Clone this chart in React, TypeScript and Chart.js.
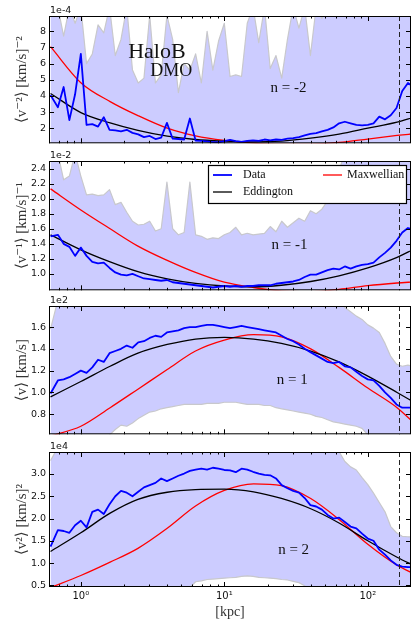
import { useEffect, useRef } from "react";
import { Chart, registerables } from "chart.js";

Chart.register(...registerables);

// ---------- shared x grid (kpc) ----------
const radiusKpc = [
  0.615, 0.692, 0.759, 0.832, 0.912, 1.0, 1.096, 1.202, 1.318, 1.445,
  1.585, 1.738, 1.905, 2.089, 2.291, 2.512, 2.754, 3.02, 3.311, 3.631,
  3.981, 4.365, 4.786, 5.248, 5.754, 6.31, 6.918, 7.586, 8.318, 9.12,
  10.0, 10.96, 12.02, 13.18, 14.45, 15.85, 17.38, 19.05, 20.89, 22.91,
  25.12, 27.54, 30.2, 33.11, 36.31, 39.81, 43.65, 47.86, 52.48, 57.54,
  63.1, 69.18, 75.86, 83.18, 91.2, 100.0, 109.6, 120.2, 131.8, 144.5,
  158.5, 173.8, 190.5, 208.9,
];
const modelRadius = [0.615, 1, 1.6, 2.5, 4, 6.3, 10, 16, 25, 40, 63, 100, 160, 210];
const cutoffRadius = 165;
const xMin = 0.62;
const xMax = 200;
const xLabelTicks = [1, 10, 100];
const xLabelText = ["10⁰", "10¹", "10²"];

// ---------- n = -2 (units 1e-4) ----------
const dataM2 = [
  4.05, 3.3, 4.55, 2.5, 4.1, 6.6, 2.2, 2.25, 2.1, 2.68,
  1.9, 1.86, 1.8, 1.9, 1.71, 1.62, 1.45, 1.52, 1.33, 1.42,
  2.33, 1.35, 1.33, 1.3, 2.6, 1.23, 1.22, 1.18, 1.14, 1.13,
  1.2, 1.27, 1.2, 1.15, 1.22, 1.25, 1.22, 1.3, 1.25, 1.3,
  1.28, 1.35, 1.38, 1.45, 1.55, 1.65, 1.7, 1.8, 1.9, 2.05,
  2.3, 2.4, 2.3, 2.2, 2.18, 2.2, 2.3, 2.72, 2.55, 2.8,
  3.25, 4.3, 4.8, 4.55,
];
const eddM2 = [4.15, 2.97, 2.33, 1.87, 1.51, 1.3, 1.2, 1.15, 1.2, 1.38, 1.63, 2.0, 2.38, 2.68];
const maxwM2 = [7.05, 4.82, 3.65, 2.78, 2.0, 1.52, 1.24, 1.08, 1.02, 1.02, 1.12, 1.33, 1.55, 1.66];
const bandHighM2 = [
  9.5, 9.5, 7.7, 9.5, 8.5, 9.5, 6.0, 6.6, 8.4, 7.9,
  9.5, 6.5, 7.5, 9.5, 5.6, 4.8, 5.1, 9.0, 4.8, 5.3,
  9.0, 7.5, 4.2, 6.0, 5.6, 6.6, 4.8, 8.0, 5.6, 7.4,
  8.5, 5.2, 5.3, 5.2, 8.5, 9.5, 7.3, 9.5, 5.7, 6.5,
  5.1, 7.5, 9.5, 8.2, 9.5, 6.5, 9.5, 8.8, 9.5, 9.5,
  9.5, 9.5, 9.5, 9.5, 9.5, 9.5, 9.5, 9.5, 9.5, 9.5,
  9.5, 9.5, 9.5, 9.5,
];
const yTicksM2 = [2, 3, 4, 5, 6, 7, 8];

// ---------- n = -1 (units 1e-2) ----------
const dataM1 = [
  1.5, 1.52, 1.4, 1.36, 1.24, 1.35, 1.24, 1.16, 1.14, 1.15,
  1.08, 1.02, 0.99, 0.98, 1.0, 0.97, 0.94, 0.93, 0.92, 0.91,
  0.92, 0.89, 0.88, 0.87, 0.86, 0.85, 0.84, 0.83, 0.82, 0.83,
  0.84, 0.83, 0.84, 0.83, 0.84, 0.84, 0.85, 0.85, 0.85, 0.87,
  0.88, 0.89, 0.9, 0.92, 0.96, 0.99, 0.99, 1.02, 1.05, 1.07,
  1.06, 1.1, 1.07, 1.1, 1.12, 1.13, 1.15, 1.22, 1.28, 1.35,
  1.44, 1.55, 1.61, 1.59,
];
const eddM1 = [1.52, 1.32, 1.16, 1.03, 0.935, 0.875, 0.84, 0.83, 0.85, 0.9, 0.975, 1.08, 1.22, 1.33];
const maxwM1 = [2.13, 1.85, 1.6, 1.37, 1.18, 1.02, 0.89, 0.82, 0.775, 0.765, 0.795, 0.845, 0.88, 0.895];
const bandHighM1 = [
  2.6, 2.6, 2.25, 2.3, 2.6, 2.3, 2.05, 2.06, 2.04, 2.05,
  2.12, 1.92, 1.95, 1.82, 1.7, 1.65, 1.66, 1.7, 1.57, 1.6,
  2.22, 1.6, 1.52, 1.55, 2.22, 1.52, 1.5, 1.46, 1.48, 1.47,
  1.52, 1.55, 1.62, 1.52, 1.54, 1.52, 1.53, 1.54, 1.63, 1.56,
  1.7, 1.62, 1.68, 1.74, 1.7, 1.84, 1.8, 1.86, 1.97, 2.15,
  2.38, 2.6, 2.6, 2.6, 2.6, 2.6, 2.6, 2.6, 2.6, 2.6,
  2.6, 2.6, 2.6, 2.6,
];
const yTicksM1 = [1.0, 1.2, 1.4, 1.6, 1.8, 2.0, 2.2, 2.4];

// ---------- n = 1 (units 1e2) ----------
const dataP1 = [
  0.99, 1.11, 1.12, 1.14, 1.17, 1.2, 1.18, 1.23, 1.3, 1.28,
  1.36, 1.38, 1.4, 1.43, 1.41, 1.46, 1.47, 1.5, 1.52, 1.51,
  1.55, 1.56, 1.57, 1.59, 1.6, 1.6, 1.61, 1.62, 1.62, 1.61,
  1.6, 1.59, 1.6, 1.61, 1.6, 1.59, 1.58, 1.57, 1.56, 1.55,
  1.52, 1.49, 1.47, 1.44, 1.4, 1.37, 1.34, 1.31, 1.28, 1.27,
  1.28, 1.24, 1.23, 1.19, 1.15, 1.12, 1.11, 1.06, 1.0, 0.95,
  0.89, 0.86, 0.86, 0.86,
];
const eddP1 = [0.96, 1.1, 1.24, 1.36, 1.44, 1.49, 1.505, 1.49, 1.45, 1.38, 1.28, 1.15, 1.0, 0.91];
const maxwP1 = [0.6, 0.69, 0.86, 1.03, 1.21, 1.38, 1.48, 1.53, 1.51, 1.4, 1.23, 1.04, 0.86, 0.72];
const bandHighP1 = [
  1.58, 1.85, 1.78, 1.79, 1.85, 1.85, 1.85, 1.85, 1.85, 1.85,
  1.85, 1.85, 1.85, 1.85, 1.85, 1.85, 1.85, 1.85, 1.85, 1.85,
  1.85, 1.85, 1.85, 1.85, 1.85, 1.85, 1.85, 1.85, 1.85, 1.85,
  1.85, 1.85, 1.85, 1.85, 1.85, 1.85, 1.85, 1.85, 1.85, 1.85,
  1.85, 1.85, 1.85, 1.85, 1.85, 1.85, 1.85, 1.85, 1.85, 1.85,
  1.85, 1.78, 1.74, 1.7, 1.67, 1.62, 1.59, 1.55, 1.45, 1.33,
  1.26, 1.24, 1.25, 1.24,
];
const bandLowP1 = [
  0.55, 0.55, 0.55, 0.55, 0.55, 0.55, 0.55, 0.55, 0.55, 0.55,
  0.61, 0.66, 0.7, 0.69, 0.72, 0.76, 0.79, 0.82, 0.83, 0.85,
  0.86, 0.87, 0.88, 0.89, 0.89, 0.89, 0.89, 0.9, 0.9, 0.9,
  0.91, 0.91, 0.91, 0.9, 0.89, 0.89, 0.89, 0.88, 0.88, 0.86,
  0.85, 0.84, 0.83, 0.82, 0.81, 0.8, 0.78, 0.77, 0.75, 0.73,
  0.72, 0.71, 0.7, 0.69, 0.67, 0.61, 0.55, 0.55, 0.55, 0.55,
  0.55, 0.55, 0.55, 0.55,
];
const yTicksP1 = [0.8, 1.0, 1.2, 1.4, 1.6];

// ---------- n = 2 (units 1e4) ----------
const dataP2 = [
  1.37, 1.74, 1.72, 1.68, 1.85, 1.95, 1.8, 2.15, 2.2, 2.1,
  2.32, 2.5, 2.62, 2.58, 2.5, 2.6, 2.7, 2.75, 2.8, 2.9,
  2.84, 2.9, 2.96, 3.01, 3.07, 3.1, 3.12, 3.1, 3.14, 3.12,
  3.09, 3.08, 3.04, 3.12, 3.1, 3.05, 3.01, 2.98, 2.97, 2.9,
  2.75, 2.68, 2.62, 2.58, 2.46, 2.3, 2.27, 2.2, 2.08, 2.0,
  2.02, 1.92, 1.82, 1.78, 1.66, 1.55, 1.5, 1.3, 1.19, 1.06,
  0.96, 0.92, 0.91, 0.91,
];
const eddP2 = [1.26, 1.68, 2.12, 2.43, 2.59, 2.65, 2.66, 2.6, 2.45, 2.22, 1.9, 1.5, 1.13, 0.94];
const maxwP2 = [0.45, 0.72, 1.02, 1.33, 1.78, 2.28, 2.63, 2.78, 2.74, 2.45, 1.98, 1.42, 0.95, 0.76];
const bandHighP2 = [
  3.3, 3.6, 3.6, 3.6, 3.6, 3.6, 3.6, 3.6, 3.6, 3.6,
  3.6, 3.6, 3.6, 3.6, 3.6, 3.6, 3.6, 3.6, 3.6, 3.6,
  3.6, 3.6, 3.6, 3.6, 3.6, 3.6, 3.6, 3.6, 3.6, 3.6,
  3.6, 3.6, 3.6, 3.6, 3.6, 3.6, 3.6, 3.6, 3.6, 3.6,
  3.6, 3.6, 3.6, 3.6, 3.6, 3.6, 3.6, 3.6, 3.6, 3.6,
  3.5, 3.28, 3.16, 3.09, 2.92, 2.76, 2.57, 2.36, 2.15, 1.82,
  1.68, 1.6, 1.59, 1.59,
];
const bandLowP2 = [
  0.3, 0.3, 0.3, 0.3, 0.3, 0.3, 0.3, 0.3, 0.3, 0.3,
  0.3, 0.3, 0.3, 0.3, 0.3, 0.3, 0.3, 0.3, 0.3, 0.3,
  0.3, 0.3, 0.3, 0.3, 0.45, 0.58, 0.6, 0.63, 0.64, 0.65,
  0.66, 0.67, 0.68, 0.7, 0.71, 0.7, 0.68, 0.67, 0.66, 0.65,
  0.63, 0.62, 0.59, 0.56, 0.49, 0.3, 0.3, 0.3, 0.3, 0.3,
  0.3, 0.3, 0.3, 0.3, 0.3, 0.3, 0.3, 0.3, 0.3, 0.3,
  0.3, 0.3, 0.3, 0.3,
];
const yTicksP2 = [0.5, 1.0, 1.5, 2.0, 2.5, 3.0];

const legendOrder = ["Data", "Eddington", "Maxwellian"];

type Note = { text: string; r: number; v: number; size: number };
type Panel = {
  id: string;
  canvasTop: number;
  canvasHeight: number;
  padBottom: number;
  yMin: number;
  yMax: number;
  yTicks: number[];
  decimals: number;
  exponent: string;
  yTitle: string;
  data: number[];
  edd: number[];
  maxw: number[];
  bandHigh: number[];
  bandLow: number[] | null;
  notes: Note[];
  legend: boolean;
  xAxis: boolean;
};

const PANELS: Panel[] = [
  {
    id: "m2", canvasTop: 0, canvasHeight: 152, padBottom: 1,
    yMin: 1.065, yMax: 8.95, yTicks: yTicksM2, decimals: 0, exponent: "1e-4",
    yTitle: "⟨v⁻²⟩ [km/s]⁻²",
    data: dataM2, edd: eddM2, maxw: maxwM2, bandHigh: bandHighM2, bandLow: null,
    notes: [
      { text: "HaloB", r: 3.39, v: 6.68, size: 22 },
      { text: "DMO", r: 4.27, v: 5.5, size: 18 },
      { text: "n = -2", r: 28, v: 4.46, size: 15 },
    ],
    legend: false, xAxis: false,
  },
  {
    id: "m1", canvasTop: 145, canvasHeight: 154, padBottom: 1,
    yMin: 0.783, yMax: 2.5, yTicks: yTicksM1, decimals: 1, exponent: "1e-2",
    yTitle: "⟨v⁻¹⟩ [km/s]⁻¹",
    data: dataM1, edd: eddM1, maxw: maxwM1, bandHigh: bandHighM1, bandLow: null,
    notes: [{ text: "n = -1", r: 28.5, v: 1.385, size: 15 }],
    legend: true, xAxis: false,
  },
  {
    id: "p1", canvasTop: 290, canvasHeight: 153, padBottom: 1,
    yMin: 0.616, yMax: 1.793, yTicks: yTicksP1, decimals: 1, exponent: "1e2",
    yTitle: "⟨v⟩ [km/s]",
    data: dataP1, edd: eddP1, maxw: maxwP1, bandHigh: bandHighP1, bandLow: bandLowP1,
    notes: [{ text: "n = 1", r: 29.7, v: 1.118, size: 15 }],
    legend: false, xAxis: false,
  },
  {
    id: "p2", canvasTop: 436, canvasHeight: 183, padBottom: 0,
    yMin: 0.462, yMax: 3.494, yTicks: yTicksP2, decimals: 1, exponent: "1e4",
    yTitle: "⟨v²⟩ [km/s]²",
    data: dataP2, edd: eddP2, maxw: maxwP2, bandHigh: bandHighP2, bandLow: bandLowP2,
    notes: [{ text: "n = 2", r: 30.4, v: 1.293, size: 15 }],
    legend: false, xAxis: true,
  },
];

const bandFill = "#ccccff";
const bandEdge = "#c8c8cc";
const serif = '"Liberation Serif", "DejaVu Serif", serif';
const sans = '"DejaVu Sans", sans-serif';

function pts(xs: number[], ys: number[]) {
  return xs.map((x, i) => ({ x, y: ys[i] }));
}

function makeDecor(p: Panel) {
  return {
    id: "decor_" + p.id,
    afterDatasetsDraw(chart: any) {
      const { ctx, chartArea: a, scales } = chart;
      const xs = scales.x;
      const ys = scales.y;
      ctx.save();

      // cutoff dashed line
      const xc = Math.round(xs.getPixelForValue(cutoffRadius)) + 0.5;
      ctx.strokeStyle = "#222";
      ctx.lineWidth = 1;
      ctx.setLineDash([5, 3]);
      ctx.beginPath();
      ctx.moveTo(xc, a.top);
      ctx.lineTo(xc, a.bottom);
      ctx.stroke();
      ctx.setLineDash([]);

      // notes
      ctx.fillStyle = "#111";
      ctx.textAlign = "center";
      ctx.textBaseline = "middle";
      for (const n of p.notes) {
        ctx.font = `${n.size}px ${serif}`;
        ctx.fillText(n.text, xs.getPixelForValue(n.r), ys.getPixelForValue(n.v));
      }

      // legend
      if (p.legend) {
        const items = legendOrder.map((l) =>
          chart.data.datasets.find((d: any) => d.label === l)
        );
        const bw = 198;
        const bh = 38;
        const bx = Math.round(a.right - 5 - bw);
        const by = Math.round(a.top + 4);
        ctx.fillStyle = "#fff";
        ctx.fillRect(bx, by, bw, bh);
        ctx.strokeStyle = "#000";
        ctx.lineWidth = 1.2;
        ctx.strokeRect(bx + 0.5, by + 0.5, bw, bh);
        const cols = [
          [5, 24, 35],
          [115, 134, 139],
        ];
        const rows = [10, 27];
        ctx.font = `12px ${serif}`;
        ctx.textAlign = "left";
        ctx.textBaseline = "middle";
        items.forEach((d: any, k: number) => {
          const c = cols[Math.floor(k / 2)];
          const y = by + rows[k % 2];
          ctx.strokeStyle = d.borderColor;
          ctx.lineWidth = d.borderWidth;
          ctx.beginPath();
          ctx.moveTo(bx + c[0], y);
          ctx.lineTo(bx + c[1], y);
          ctx.stroke();
          ctx.fillStyle = "#111";
          ctx.fillText(d.label, bx + c[2], y);
        });
      }

      // inward ticks
      ctx.strokeStyle = "#000";
      ctx.lineWidth = 1;
      ctx.beginPath();
      for (let dec = -1; dec <= 2; dec++) {
        for (let m = 1; m <= 9; m++) {
          const v = m * Math.pow(10, dec);
          if (v <= xs.min || v >= xs.max) continue;
          const px = Math.round(xs.getPixelForValue(v)) + 0.5;
          const len = m === 1 ? 5 : 2.5;
          ctx.moveTo(px, a.top);
          ctx.lineTo(px, a.top + len);
          ctx.moveTo(px, a.bottom);
          ctx.lineTo(px, a.bottom - len);
        }
      }
      for (const v of p.yTicks) {
        const py = Math.round(ys.getPixelForValue(v)) + 0.5;
        ctx.moveTo(a.left, py);
        ctx.lineTo(a.left + 5, py);
        ctx.moveTo(a.right, py);
        ctx.lineTo(a.right - 5, py);
      }
      ctx.stroke();

      // frame
      ctx.strokeRect(a.left + 0.5, a.top + 0.5, a.right - a.left - 1, a.bottom - a.top - 1);

      // exponent
      ctx.fillStyle = "#111";
      ctx.font = `9.5px ${sans}`;
      ctx.textAlign = "left";
      ctx.textBaseline = "bottom";
      ctx.fillText(p.exponent, a.left + 1, a.top - 1);
      ctx.restore();
    },
  };
}

function PanelChart({ p }: { p: Panel }) {
  const ref = useRef<HTMLCanvasElement | null>(null);
  useEffect(() => {
    if (!ref.current) return;
    const datasets: any[] = [];
    if (p.bandLow) {
      datasets.push({
        label: "", data: pts(radiusKpc, p.bandLow), borderColor: bandEdge,
        borderWidth: 1.2, fill: false, order: 3, pointRadius: 0,
      });
    }
    datasets.push({
      label: "", data: pts(radiusKpc, p.bandHigh), borderColor: bandEdge,
      borderWidth: 1.2, backgroundColor: bandFill, fill: p.bandLow ? "-1" : "start",
      order: 4, pointRadius: 0,
    });
    datasets.push({
      label: "Maxwellian", data: pts(modelRadius, p.maxw), borderColor: "#ff0000",
      borderWidth: 1.3, fill: false, cubicInterpolationMode: "monotone", order: 2, pointRadius: 0,
    });
    datasets.push({
      label: "Eddington", data: pts(modelRadius, p.edd), borderColor: "#000000",
      borderWidth: 1.3, fill: false, cubicInterpolationMode: "monotone", order: 1, pointRadius: 0,
    });
    datasets.push({
      label: "Data", data: pts(radiusKpc, p.data), borderColor: "#0000ff",
      borderWidth: 1.8, fill: false, tension: 0, order: 0, pointRadius: 0,
    });

    const chart = new Chart(ref.current, {
      type: "line",
      data: { datasets },
      options: {
        animation: false,
        responsive: false,
        devicePixelRatio: 1,
        events: [],
        layout: { padding: { top: 16, bottom: p.padBottom, left: 0, right: 0 } },
        plugins: { legend: { display: false }, tooltip: { enabled: false } },
        elements: { point: { radius: 0 }, line: { borderJoinStyle: "round" } },
        scales: {
          x: {
            type: "logarithmic",
            min: xMin,
            max: xMax,
            display: p.xAxis,
            grid: { display: false, drawTicks: false },
            border: { display: false },
            afterBuildTicks: (ax: any) => {
              ax.ticks = xLabelTicks.map((v) => ({ value: v }));
            },
            afterFit: (ax: any) => {
              ax.height = p.xAxis ? 32 : 0;
            },
            ticks: {
              autoSkip: false,
              maxRotation: 0,
              minRotation: 0,
              padding: 3,
              color: "#111",
              font: { family: sans, size: 10 },
              callback: (v: any) => {
                const k = xLabelTicks.indexOf(Number(v));
                return k >= 0 ? xLabelText[k] : "";
              },
            },
            title: {
              display: p.xAxis,
              text: "[kpc]",
              color: "#333",
              font: { family: serif, size: 14, lineHeight: 1 },
              padding: { top: 0, bottom: 0 },
            },
          },
          y: {
            type: "linear",
            min: p.yMin,
            max: p.yMax,
            grid: { display: false, drawTicks: false },
            border: { display: false },
            afterBuildTicks: (ax: any) => {
              ax.ticks = p.yTicks.map((v) => ({ value: v }));
            },
            afterFit: (ax: any) => {
              ax.width = 49;
            },
            ticks: {
              padding: 3,
              color: "#111",
              font: { family: sans, size: 9.5 },
              callback: (v: any) => Number(v).toFixed(p.decimals),
            },
            title: {
              display: true,
              text: p.yTitle,
              color: "#333",
              font: { family: serif, size: 15 },
              padding: { top: 13, bottom: 0 },
            },
          },
        },
      } as any,
      plugins: [makeDecor(p)],
    });
    return () => chart.destroy();
  }, [p]);

  return (
    <canvas
      ref={ref}
      width={411}
      height={p.canvasHeight}
      style={{
        position: "absolute",
        left: 0,
        top: p.canvasTop,
        width: 411,
        height: p.canvasHeight,
        display: "block",
      }}
    />
  );
}

export default function App() {
  return (
    <div
      style={{
        position: "absolute",
        left: 0,
        top: 0,
        width: 411,
        height: 619,
        background: "#ffffff",
        overflow: "hidden",
      }}
    >
      {PANELS.map((p) => (
        <PanelChart key={p.id} p={p} />
      ))}
    </div>
  );
}
